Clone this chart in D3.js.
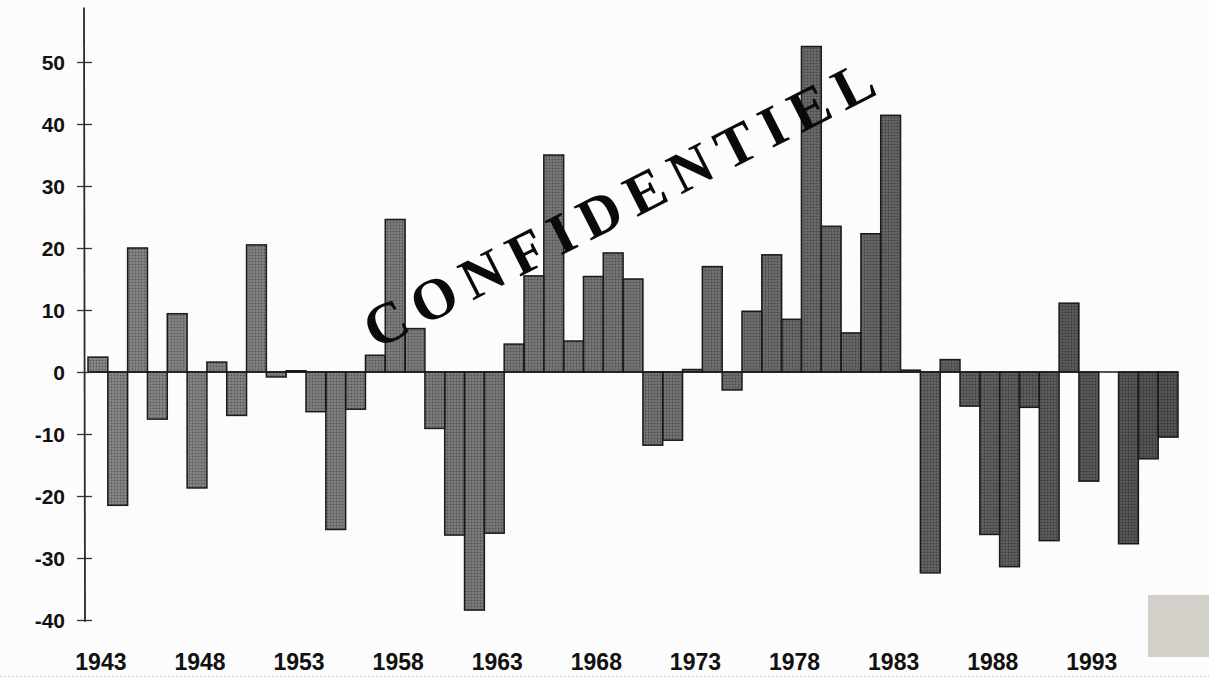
<!DOCTYPE html>
<html>
<head>
<meta charset="utf-8">
<script src="https://cdn.jsdelivr.net/npm/d3@7"></script>
<style>
  html, body { margin: 0; padding: 0; background: #fcfcfc; }
  svg { display: block; }
</style>
</head>
<body>
<script>
// ---- data ----
const years = d3.range(1943, 1998);
const values = [
  2.4, -21.5, 20.0, -7.6, 9.4, -18.7, 1.6, -7.0, 20.5, -0.8,
  0.2, -6.4, -25.4, -6.0, 2.7, 24.6, 7.0, -9.1, -26.3, -38.4,
  -26.0, 4.5, 15.5, 35.0, 5.0, 15.4, 19.2, 15.0, -11.8, -11.0,
  0.4, 17.0, -2.9, 9.8, 18.9, 8.5, 52.5, 23.5, 6.3, 22.3,
  41.4, 0.3, -32.4, 2.0, -5.5, -26.2, -31.4, -5.7, -27.2, 11.1,
  -17.6, 0.0, -27.7, -14.0, -10.5
];
const yTicks = [50, 40, 30, 20, 10, 0, -10, -20, -30, -40];
const xTickLabels = [1943, 1948, 1953, 1958, 1963, 1968, 1973, 1978, 1983, 1988, 1993];
const watermark = "CONFIDENTIEL";

// ---- layout ----
const W = 1209, H = 678;
const svg = d3.select("body").append("svg").attr("width", W).attr("height", H);
svg.append("rect").attr("width", W).attr("height", H).attr("fill", "#fcfcfc");

const x = d3.scaleBand().domain(years).range([88, 1178]).padding(0);
const y = d3.scaleLinear().domain([-40, 50]).range([620, 62]);

const defs = svg.append("defs");
const grad = defs.append("linearGradient").attr("id", "barfill")
  .attr("gradientUnits", "userSpaceOnUse")
  .attr("x1", 88).attr("x2", 1178).attr("y1", 0).attr("y2", 0);
grad.append("stop").attr("offset", "0%").attr("stop-color", "#7c7c7c");
grad.append("stop").attr("offset", "50%").attr("stop-color", "#6a6a6a");
grad.append("stop").attr("offset", "100%").attr("stop-color", "#474747");

const pat = defs.append("pattern").attr("id", "dots")
  .attr("patternUnits", "userSpaceOnUse").attr("width", 3).attr("height", 3);
pat.append("rect").attr("x", 0).attr("y", 0).attr("width", 1).attr("height", 1).attr("fill", "#222").attr("opacity", 0.45);
pat.append("rect").attr("x", 1.5).attr("y", 1.5).attr("width", 1).attr("height", 1).attr("fill", "#d8d8d8").attr("opacity", 0.35);

const barAttrs = sel => sel
  .attr("x", d => x(d))
  .attr("width", x.bandwidth())
  .attr("y", (d, i) => y(Math.max(0, values[i])))
  .attr("height", (d, i) => Math.abs(y(values[i]) - y(0)));

// ---- bars ----
svg.append("g").selectAll("rect").data(years).join("rect")
  .call(barAttrs).attr("fill", "url(#barfill)");
svg.append("g").selectAll("rect").data(years).join("rect")
  .call(barAttrs).attr("fill", "url(#dots)")
  .attr("stroke", "#1a1a1a").attr("stroke-width", 1.5);

// zero line
svg.append("line")
  .attr("x1", x(1943)).attr("x2", x(1997) + x.bandwidth())
  .attr("y1", y(0)).attr("y2", y(0))
  .attr("stroke", "#1a1a1a").attr("stroke-width", 1.6);

// ---- y axis ----
const yAxis = d3.axisLeft(y).tickValues(yTicks).tickSize(7).tickPadding(12)
  .tickFormat(d => String(d));
const gy = svg.append("g").attr("transform", "translate(84,0)").call(yAxis);
gy.select(".domain").remove();
gy.selectAll(".tick line").attr("x1", 8).attr("stroke", "#333").attr("stroke-width", 1.3);
gy.selectAll(".tick text")
  .attr("font-family", "'Liberation Sans', Arial, sans-serif")
  .attr("font-weight", "bold").attr("font-size", 21).attr("fill", "#111")
  .attr("dy", "0.36em");
svg.append("line")
  .attr("x1", 84).attr("x2", 85)
  .attr("y1", y(58.8)).attr("y2", y(-40.3))
  .attr("stroke", "#2a2a2a").attr("stroke-width", 1.8);

// ---- x labels ----
svg.append("g").selectAll("text").data(xTickLabels).join("text")
  .attr("x", d => x(d) + x.bandwidth() / 2 + 3)
  .attr("y", 670)
  .attr("text-anchor", "middle")
  .attr("font-family", "'Liberation Sans', Arial, sans-serif")
  .attr("font-weight", "bold").attr("font-size", 23).attr("fill", "#111")
  .text(d => d);

// ---- watermark ----
svg.append("text")
  .attr("transform", "translate(376,350) rotate(-27)")
  .attr("font-family", "'Liberation Serif', 'Times New Roman', serif")
  .attr("font-weight", "bold").attr("font-size", 58)
  .attr("fill", "#0a0a0a")
  .attr("textLength", 565).attr("lengthAdjust", "spacing")
  .text(watermark);

// gray box bottom-right
svg.append("rect").attr("x", 1148).attr("y", 595).attr("width", 61).attr("height", 62)
  .attr("fill", "#d3cfc9");

// bottom faint border
svg.append("line").attr("x1", 0).attr("x2", W).attr("y1", 676.5).attr("y2", 676.5)
  .attr("stroke", "#cccccc").attr("stroke-width", 1).attr("stroke-dasharray", "2,2");
</script>
</body>
</html>
